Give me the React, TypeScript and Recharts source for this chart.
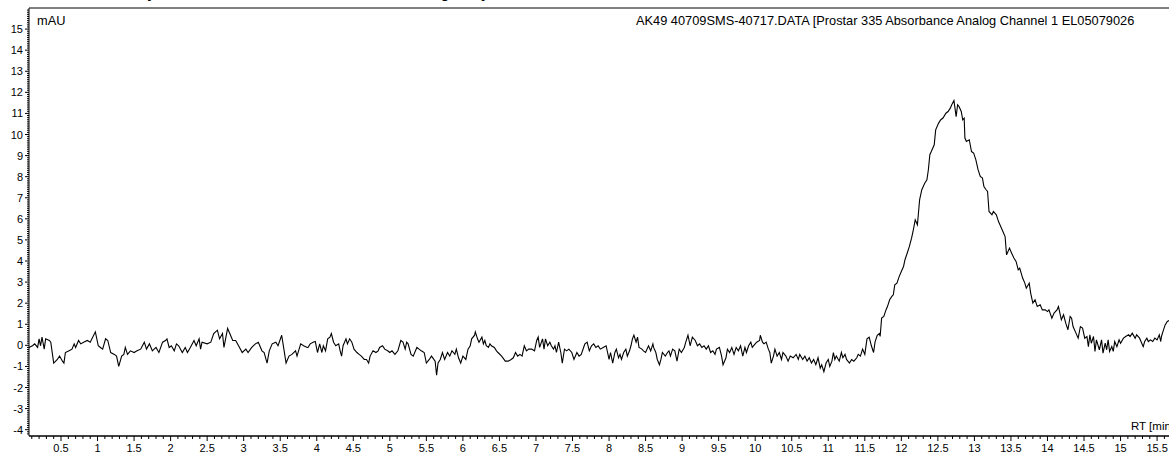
import { LineChart, Line, XAxis, YAxis, Customized } from "recharts";

// RT [min] / mAU pairs, split by region
const rtA = [0.06, 0.11, 0.14, 0.18, 0.2, 0.22, 0.24, 0.27, 0.29, 0.34, 0.36, 0.4, 0.45, 0.48, 0.52, 0.54, 0.56, 0.61, 0.65, 0.68, 0.7, 0.74, 0.77, 0.81, 0.86, 0.9, 0.97, 1.01, 1.04, 1.07, 1.11, 1.14, 1.18, 1.23, 1.26, 1.29, 1.33, 1.36, 1.38, 1.41, 1.45, 1.5, 1.54, 1.59, 1.64, 1.67, 1.71, 1.75, 1.8, 1.84, 1.89, 1.93, 1.95, 1.98, 2.01, 2.05, 2.08, 2.11, 2.16, 2.2, 2.23, 2.27, 2.32, 2.35, 2.39, 2.41, 2.43, 2.5, 2.55, 2.59, 2.64, 2.67, 2.71, 2.73, 2.78, 2.82, 2.85, 2.89, 2.93, 2.98, 3.03, 3.06, 3.11, 3.16, 3.2, 3.25, 3.28, 3.32, 3.35, 3.39, 3.44, 3.47, 3.52, 3.55, 3.58, 3.62, 3.66, 3.71, 3.73, 3.78, 3.82, 3.87];
const mauA = [-0.1, -0.02, 0.07, -0.1, 0.31, -0.02, 0.39, -0.18, 0.31, 0.23, 0.15, -0.84, -0.67, -0.51, -0.75, -0.84, -0.34, -0.26, -0.18, 0.07, -0.1, 0.23, 0.07, 0.15, 0.23, 0.15, 0.64, -0.02, -0.1, -0.18, 0.31, 0.23, -0.34, -0.43, -0.51, -1.0, -0.51, -0.43, -0.1, -0.43, -0.26, -0.34, -0.26, -0.18, 0.15, -0.18, 0.07, -0.26, -0.1, -0.34, 0.15, 0.23, 0.31, -0.1, -0.02, -0.26, 0.07, -0.02, -0.34, -0.1, -0.34, -0.1, 0.23, -0.02, 0.31, -0.18, 0.15, 0.07, 0.15, 0.56, 0.72, 0.31, 0.56, -0.1, 0.8, 0.48, 0.23, 0.23, -0.02, -0.34, -0.18, -0.34, -0.1, 0.07, 0.15, -0.26, -0.34, -0.84, -0.26, 0.07, 0.15, -0.02, 0.48, -0.18, -0.84, -0.51, -0.43, -0.26, -0.51, 0.07, -0.02, -0.1];

const rtB = [3.88, 3.91, 3.95, 3.98, 4.01, 4.04, 4.07, 4.09, 4.12, 4.15, 4.18, 4.2, 4.23, 4.26, 4.3, 4.32, 4.34, 4.36, 4.4, 4.42, 4.45, 4.48, 4.51, 4.55, 4.58, 4.61, 4.65, 4.68, 4.71, 4.73, 4.77, 4.81, 4.84, 4.86, 4.9, 4.93, 4.97, 5.0, 5.03, 5.07, 5.11, 5.15, 5.18, 5.21, 5.23, 5.25, 5.29, 5.32, 5.37, 5.4, 5.43, 5.47, 5.5, 5.54, 5.57, 5.62, 5.64, 5.66, 5.69, 5.72, 5.75, 5.79, 5.82, 5.85, 5.87, 5.89, 5.91, 5.94, 5.97, 6.0, 6.04, 6.07, 6.1, 6.12, 6.16, 6.17, 6.2, 6.22, 6.26, 6.28, 6.3, 6.32, 6.35, 6.37, 6.39, 6.43, 6.46, 6.48, 6.53, 6.58, 6.62, 6.66, 6.69, 6.72, 6.75, 6.78, 6.81, 6.84, 6.87, 6.9, 6.94, 6.98, 7.01, 7.03, 7.05, 7.09, 7.11, 7.13, 7.16, 7.19, 7.21, 7.24, 7.26, 7.28, 7.31, 7.34, 7.36, 7.39, 7.42, 7.45, 7.49, 7.52, 7.56, 7.59, 7.62, 7.66];
const mauB = [-0.1, 0.07, 0.15, 0.18, -0.34, 0.07, -0.34, -0.02, -0.26, 0.31, 0.39, 0.56, 0.15, -0.02, 0.07, -0.26, -0.51, -0.02, 0.31, 0.07, 0.31, 0.15, -0.18, -0.34, -0.43, -0.51, -0.67, -0.67, -0.84, -0.51, -0.26, -0.34, -0.26, -0.1, -0.02, -0.18, -0.26, -0.34, -0.26, -0.43, -0.26, 0.23, 0.15, -0.18, 0.15, 0.07, -0.43, -0.51, -0.1, -0.18, -0.26, -0.34, -0.84, -0.67, -0.51, -0.75, -1.41, -0.84, -0.67, -0.34, -0.67, -0.34, -0.51, -0.26, -0.34, -0.43, -0.18, -0.59, -0.84, -0.51, -0.67, -0.18, -0.02, 0.31, 0.48, 0.64, 0.31, 0.15, 0.39, 0.07, 0.23, -0.02, -0.1, 0.07, -0.02, -0.1, -0.26, -0.34, -0.51, -0.75, -0.75, -0.67, -0.59, -0.34, -0.51, -0.43, -0.51, -0.02, -0.26, -0.18, -0.18, -0.26, 0.23, 0.39, -0.1, 0.31, -0.18, 0.31, -0.02, 0.15, -0.02, -0.18, -0.02, -0.34, 0.15, -0.34, -0.84, -0.18, -0.26, -0.18, -0.34, -0.67, -0.34, -0.51, -0.43, -0.02];

const rtC = [7.67, 7.7, 7.73, 7.76, 7.79, 7.82, 7.85, 7.88, 7.92, 7.96, 7.98, 8.0, 8.02, 8.05, 8.08, 8.1, 8.13, 8.15, 8.17, 8.2, 8.23, 8.25, 8.28, 8.3, 8.32, 8.34, 8.37, 8.39, 8.41, 8.45, 8.47, 8.5, 8.54, 8.57, 8.6, 8.61, 8.64, 8.66, 8.69, 8.71, 8.73, 8.77, 8.8, 8.82, 8.84, 8.87, 8.9, 8.93, 8.96, 8.99, 9.03, 9.05, 9.08, 9.11, 9.14, 9.18, 9.21, 9.24, 9.27, 9.3, 9.33, 9.36, 9.39, 9.42, 9.45, 9.47, 9.51, 9.54, 9.56, 9.6, 9.62, 9.65, 9.68, 9.71, 9.74, 9.77, 9.8, 9.83, 9.86, 9.88, 9.91, 9.94, 9.96, 10.0, 10.02, 10.06, 10.07, 10.1, 10.12, 10.15, 10.18, 10.2, 10.22, 10.25, 10.27, 10.3, 10.33, 10.36, 10.38, 10.42, 10.45, 10.48, 10.52, 10.56, 10.59, 10.61, 10.65, 10.68, 10.71, 10.74, 10.77, 10.8, 10.83, 10.86, 10.89, 10.91, 10.94, 10.97, 11.0, 11.02, 11.05, 11.07, 11.09, 11.11, 11.15, 11.18, 11.2, 11.23, 11.25, 11.29, 11.32, 11.35, 11.39, 11.41, 11.44, 11.47, 11.5, 11.53, 11.56, 11.59, 11.62, 11.64, 11.67, 11.7];
const mauC = [0.07, 0.15, -0.26, -0.02, 0.07, -0.1, -0.02, -0.18, -0.1, -0.02, -0.34, -0.67, -0.34, -0.84, -0.34, -0.18, -0.59, -0.43, -0.67, -0.34, -0.18, -0.51, -0.26, -0.02, 0.31, 0.48, 0.15, 0.39, -0.1, -0.18, -0.26, -0.34, -0.02, -0.26, 0.07, -0.1, -0.34, -0.67, -0.92, -0.67, -0.34, -0.51, -0.34, -0.26, -0.51, -0.18, -0.26, -0.75, -0.18, -0.34, -0.1, 0.15, 0.48, -0.02, 0.39, 0.23, -0.02, 0.07, -0.1, -0.02, -0.18, -0.02, -0.34, -0.26, -0.43, -0.18, -0.1, -0.51, -0.92, -0.59, -0.18, -0.34, -0.1, -0.43, -0.1, -0.26, -0.02, -0.51, -0.1, -0.34, -0.02, 0.15, -0.1, 0.07, 0.15, 0.23, 0.48, 0.15, 0.07, 0.15, -0.18, -0.34, -0.84, -0.51, -0.18, -0.51, -0.34, -0.67, -0.34, -0.51, -0.75, -0.51, -0.59, -0.43, -0.67, -0.43, -0.67, -0.51, -0.75, -0.59, -0.84, -0.67, -0.92, -0.59, -1.08, -0.92, -1.25, -0.84, -0.67, -1.0, -0.75, -0.34, -0.67, -0.51, -0.75, -0.34, -0.59, -0.43, -0.67, -0.84, -0.67, -0.75, -0.59, -0.43, -0.51, -0.18, -0.43, 0.31, 0.39, -0.02, -0.34, 0.15, 0.48, 0.56];

const rtD = [11.71, 11.73, 11.76, 11.79, 11.81, 11.84, 11.87, 11.89, 11.91, 11.94, 11.97, 12.0, 12.03, 12.05, 12.08, 12.11, 12.14, 12.16, 12.19, 12.22, 12.23, 12.25, 12.28, 12.32, 12.35, 12.37, 12.39, 12.41, 12.45, 12.47, 12.51, 12.54, 12.57, 12.61, 12.64, 12.67, 12.69, 12.72, 12.75, 12.77, 12.79, 12.82, 12.84, 12.86, 12.87, 12.89, 12.93, 12.96, 12.99, 13.02, 13.05, 13.08, 13.11, 13.13, 13.16, 13.18, 13.2, 13.24, 13.26, 13.3, 13.33, 13.36, 13.39, 13.42, 13.44, 13.48, 13.51, 13.54, 13.57, 13.6, 13.62, 13.66, 13.69, 13.71, 13.75, 13.77, 13.8, 13.83, 13.86, 13.9, 13.93, 13.97, 14.0, 14.02, 14.06, 14.09, 14.13, 14.15, 14.17, 14.19, 14.22, 14.25, 14.28, 14.31, 14.33, 14.35, 14.39, 14.42, 14.45, 14.48, 14.51, 14.54, 14.56, 14.58, 14.6, 14.63, 14.65, 14.67, 14.71, 14.74, 14.76, 14.79, 14.81, 14.83, 14.85, 14.88, 14.9, 14.92, 14.95, 14.98, 15.0, 15.04, 15.07, 15.11, 15.13, 15.16, 15.2, 15.22, 15.26, 15.29, 15.31, 15.33, 15.36, 15.38, 15.41, 15.44, 15.47, 15.5, 15.53, 15.55, 15.56, 15.58, 15.61, 15.64, 15.68];
const mauD = [0.42, 1.29, 1.37, 1.68, 1.84, 2.16, 2.32, 2.4, 2.87, 2.95, 3.26, 3.5, 3.74, 4.06, 4.37, 4.69, 5.08, 5.4, 5.95, 5.72, 6.11, 6.9, 7.38, 7.69, 7.85, 8.33, 9.04, 9.19, 9.51, 10.22, 10.54, 10.7, 10.78, 11.01, 11.09, 11.25, 11.41, 11.61, 10.85, 11.41, 11.33, 11.09, 10.7, 10.78, 9.83, 9.67, 9.75, 9.19, 9.12, 8.8, 8.33, 8.01, 7.93, 7.53, 7.38, 7.3, 6.35, 6.19, 6.35, 6.19, 5.87, 5.64, 5.4, 5.16, 4.29, 4.61, 4.37, 4.14, 3.98, 3.58, 3.66, 3.19, 2.95, 2.71, 2.95, 2.48, 2.0, 2.16, 1.84, 1.92, 1.68, 1.68, 1.6, 1.68, 1.29, 1.53, 1.68, 1.84, 1.53, 1.21, 1.45, 1.05, 0.74, 1.37, 1.29, 0.89, 0.58, 0.34, 0.89, 0.82, 0.34, 0.42, -0.06, 0.5, 0.1, 0.42, -0.29, 0.26, -0.21, 0.26, -0.37, 0.1, -0.21, 0.26, -0.29, -0.06, -0.29, 0.18, -0.06, 0.26, 0.1, 0.34, 0.42, 0.5, 0.42, 0.58, 0.34, 0.5, 0.34, 0.1, -0.06, 0.18, 0.34, 0.18, 0.26, 0.18, 0.34, 0.26, 0.5, 0.18, 0.42, 0.65, 0.97, 1.13, 1.21];

const rtAll = [...rtA, ...rtB, ...rtC, ...rtD];
const mauAll = [...mauA, ...mauB, ...mauC, ...mauD];
const data = rtAll.map((rt, i) => ({ rt, mau: mauAll[i] }));

const X_DOMAIN: [number, number] = [0.062, 15.663];
const Y_DOMAIN: [number, number] = [-4.3, 16];

// minor ticks every 0.1, labels on the majors (no 16 label at the frame top)
const xTicks: number[] = [];
for (let i = 1; i <= 156; i++) xTicks.push(i / 10);
const yTicks: number[] = [];
for (let i = -42; i <= 159; i++) yTicks.push(i / 10);

const FONT = "'Liberation Sans', Arial, sans-serif";

const XTick = (props: any) => {
  const { x, y, payload } = props;
  const tenths = Math.round(payload.value * 10);
  const major = tenths % 5 === 0;
  return (
    <g>
      <line x1={x} x2={x} y1={y} y2={y + (major ? 5 : 3)} stroke="#000" strokeWidth={1} />
      {major && (
        <text x={x} y={y + 16} textAnchor="middle" fontSize={11} fontFamily={FONT} fill="#000">
          {String(tenths / 10)}
        </text>
      )}
    </g>
  );
};

const YTick = (props: any) => {
  const { x, y, payload } = props;
  const tenths = Math.round(payload.value * 10);
  const major = tenths % 10 === 0;
  return (
    <g>
      <line x1={x - (major ? 4 : 2)} x2={x} y1={y} y2={y} stroke="#000" strokeWidth={1} />
      {major && (
        <text x={x - 6} y={y + 4} textAnchor="end" fontSize={11} fontFamily={FONT} fill="#000">
          {String(tenths / 10)}
        </text>
      )}
    </g>
  );
};

const Annotations = () => (
  <g>
    <text x={60} y={-3} fontSize={18} fontWeight="bold" fontFamily="'Liberation Serif', 'Times New Roman', serif" fill="#000">
      HPLC analysis of crude AK49 mixture at 214 nm purity
    </text>
    <text x={37} y={25} fontSize={12.8} fontFamily={FONT} fill="#000">mAU</text>
    <text x={636} y={25} fontSize={12.8} fontFamily={FONT} fill="#000">
      AK49 40709SMS-40717.DATA [Prostar 335 Absorbance Analog Channel 1 EL05079026
    </text>
    <text x={1131} y={430} fontSize={11.5} fontFamily={FONT} fill="#000">RT [min]</text>
  </g>
);

export default function App() {
  return (
    <div style={{ position: "absolute", left: 0, top: 0, width: 1169, height: 453, overflow: "hidden", background: "#fff" }}>
      <LineChart width={1169} height={453} data={data} margin={{ top: 7, right: 0, bottom: 16, left: 28 }}>
        <XAxis
          dataKey="rt"
          type="number"
          domain={X_DOMAIN}
          allowDataOverflow
          ticks={xTicks}
          interval={0}
          height={1}
          tickSize={0}
          tickMargin={0}
          tick={<XTick />}
          axisLine={{ stroke: "#000", strokeWidth: 1.5 }}
        />
        <XAxis
          xAxisId="top"
          orientation="top"
          type="number"
          domain={X_DOMAIN}
          height={1}
          tick={false}
          tickLine={false}
          axisLine={{ stroke: "#000", strokeWidth: 1 }}
        />
        <YAxis
          type="number"
          domain={Y_DOMAIN}
          allowDataOverflow
          ticks={yTicks}
          interval={0}
          width={1}
          tickSize={0}
          tickMargin={0}
          tick={<YTick />}
          axisLine={{ stroke: "#000", strokeWidth: 1 }}
        />
        <Line
          type="linear"
          dataKey="mau"
          stroke="#000"
          strokeWidth={1.1}
          dot={false}
          isAnimationActive={false}
        />
        <Customized component={Annotations} />
      </LineChart>
    </div>
  );
}
